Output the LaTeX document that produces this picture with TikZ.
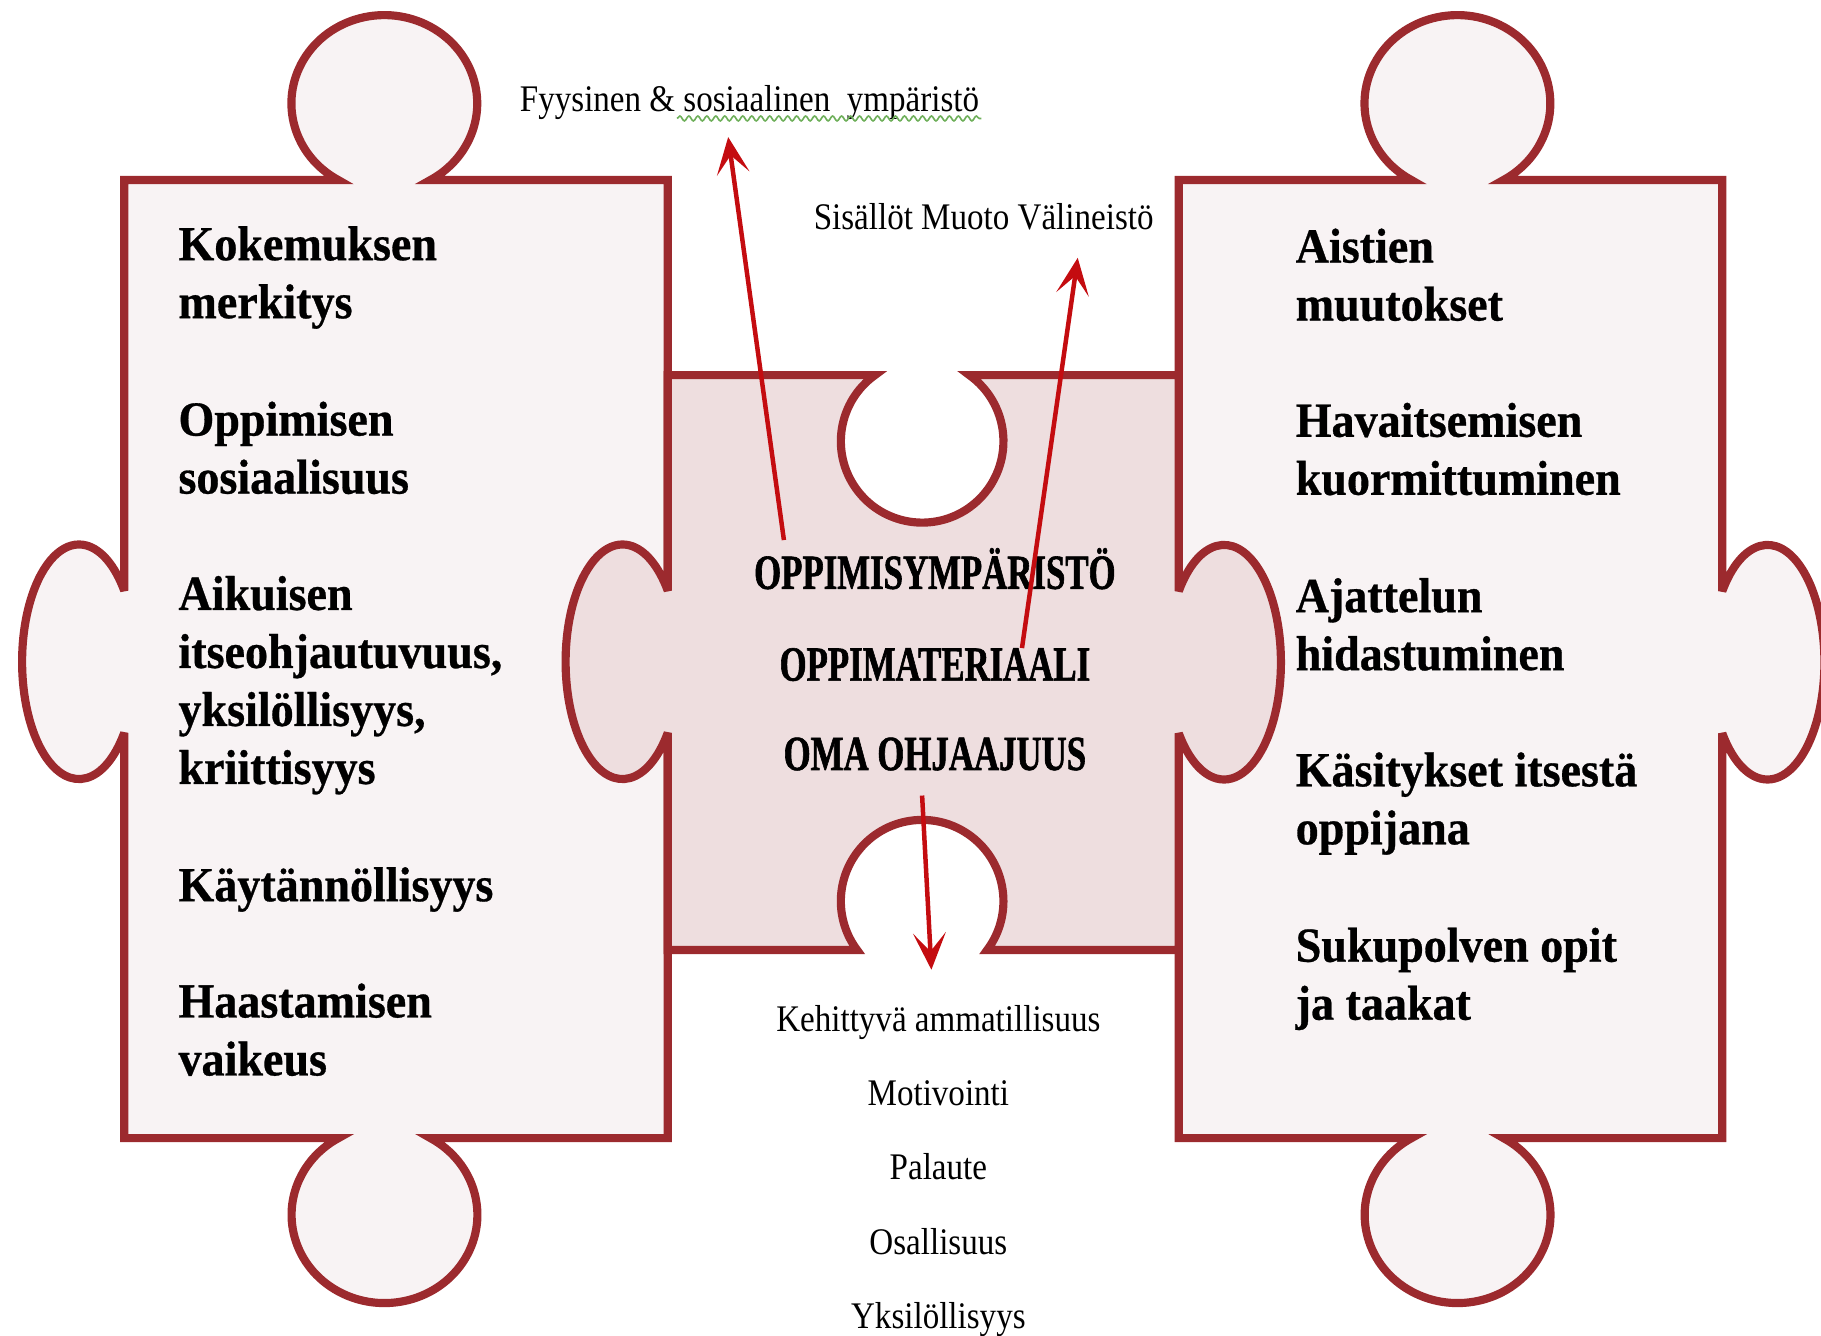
\documentclass[tikz,border=0pt]{standalone}
\usepackage{fontspec}
\setmainfont{Liberation Serif}
\newfontfamily\itemFont[FakeStretch=0.94, FakeBold=0.6]{Liberation Serif Bold}
\newfontfamily\coreFont[FakeStretch=0.71, FakeBold=1.2]{Liberation Serif Bold}
\newfontfamily\noteFont[FakeStretch=0.88]{Liberation Serif}
\usetikzlibrary{arrows.meta, decorations.pathmorphing}
\tikzstyle{sheet} = [x = 0.01cm, y = -0.01cm]
\definecolor{pieceRed}{RGB}{156,42,46}
\definecolor{sideFill}{RGB}{248,243,244}
\definecolor{middleFill}{RGB}{238,222,223}
\definecolor{arrowRed}{RGB}{196,12,16}
\definecolor{spellGreen}{RGB}{110,175,90}
\tikzstyle{pieceStyle} = [draw=pieceRed, line width=2pt, miter limit=4]
\tikzstyle{sidePiece} = [pieceStyle, fill=sideFill]
\tikzstyle{middlePiece} = [pieceStyle, fill=middleFill]
% multi-line nodes: base = baseline of the last line
\tikzstyle{itemText} = [font=\itemFont\fontsize{12}{14.2}\selectfont, align=left, anchor=base west, inner sep=0pt]
\tikzstyle{coreText} = [font=\coreFont\fontsize{12}{14}\selectfont, anchor=base, inner sep=0pt]
\tikzstyle{noteText} = [font=\noteFont\fontsize{9.2}{11}\selectfont, inner sep=0pt]
\tikzstyle{pointer} = [arrowRed, line width=1.1pt, -{Stealth[length=9pt, width=8pt, inset=4.5pt]}]
\tikzstyle{spellMark} = [spellGreen, line width=0.4pt, decorate, decoration={snake, amplitude=0.6pt, segment length=2.2pt}]
\newcommand{\knobRx}{80}
\newcommand{\knobRy}{76}
\newcommand{\sideRx}{49}
\newcommand{\sideRy}{101}
\newcommand{\holeR}{70}

\begin{document}
\begin{tikzpicture}[sheet]
  \useasboundingbox (0,0) rectangle (1568,1150);

  % left piece
  \filldraw [sidePiece] (107,155) -- (291.3,155)
    arc [start angle = 119.7, end angle = 420.3, x radius = \knobRx, y radius = \knobRy]
    -- (575,155) -- (575,980) -- (370.7,980)
    arc [start angle = 299.7, end angle = 600.3, x radius = \knobRx, y radius = \knobRy]
    -- (107,980) -- (107,631)
    arc [start angle = 37.3, end angle = 322.7, x radius = \sideRx, y radius = \sideRy]
    -- cycle;

  % right piece
  \filldraw [sidePiece] (1015,155) -- (1215.3,155)
    arc [start angle = 119.7, end angle = 420.3, x radius = \knobRx, y radius = \knobRy]
    -- (1483,155) -- (1483,509)
    arc [start angle = 217.3, end angle = 502.7, x radius = \sideRx, y radius = \sideRy]
    -- (1483,980) -- (1294.7,980)
    arc [start angle = 299.7, end angle = 600.3, x radius = \knobRx, y radius = \knobRy]
    -- (1015,980) -- cycle;

  % middle piece
  \filldraw [middlePiece] (575,323) -- (753.4,323)
    arc [start angle = 234.5, end angle = -54.5, radius = \holeR]
    -- (1015,323) -- (1015,509)
    arc [start angle = 217.3, end angle = 502.7, x radius = \sideRx, y radius = \sideRy]
    -- (1015,818) -- (850,818)
    arc [start angle = 36.9, end angle = -216.9, radius = \holeR]
    -- (575,818) -- (575,631)
    arc [start angle = 37.3, end angle = 322.7, x radius = \sideRx, y radius = \sideRy]
    -- cycle;

  % left texts
  \node [itemText] (kokemusText) at (153,274) {Kokemuksen\\merkitys};
  \node [itemText] (oppiminenText) at (153,425) {Oppimisen\\sosiaalisuus};
  \node [itemText] (aikuinenText) at (153,675) {Aikuisen\\itseohjautuvuus,\\yksilöllisyys,\\kriittisyys};
  \node [itemText] (kaytantoText) at (153,776) {Käytännöllisyys};
  \node [itemText] (haasteText) at (153,926) {Haastamisen\\vaikeus};

  % right texts
  \node [itemText] (aistiText) at (1115,276) {Aistien\\muutokset};
  \node [itemText] (havaintoText) at (1115,426) {Havaitsemisen\\kuormittuminen};
  \node [itemText] (ajatteluText) at (1115,577) {Ajattelun\\hidastuminen};
  \node [itemText] (kasitysText) at (1115,727) {Käsitykset itsestä\\oppijana};
  \node [itemText] (sukupolviText) at (1115,878) {Sukupolven opit\\ja taakat};

  % middle texts
  \node [coreText] (envText) at (805,507) {OPPIMISYMPÄRISTÖ};
  \node [coreText] (materialText) at (805,586) {OPPIMATERIAALI};
  \node [coreText] (guidanceText) at (805,663) {OMA OHJAAJUUS};

  % outer labels
  \node [noteText, anchor=base west] (envLabel) at (447,96) {Fyysinen \& sosiaalinen~ ympäristö};
  \draw [spellMark] (583,102) -- (845,102);
  \node [noteText, anchor=base west] (materialLabel) at (700,198) {Sisällöt Muoto Välineistö};
  \foreach \word [count=\i] in {Kehittyvä ammatillisuus, Motivointi, Palaute, Osallisuus, Yksilöllisyys}
    \node [noteText, anchor=base] (note\i) at (808, 824 + 64 * \i) {\word};

  % arrows
  \coordinate (envTail) at (675,465);
  \coordinate (envTip) at (627,118);
  \coordinate (materialTail) at (880,558);
  \coordinate (materialTip) at (928,222);
  \coordinate (guidanceTail) at (794,685);
  \coordinate (guidanceTip) at (802,835);
  \draw [pointer] (envTail) -- (envTip);
  \draw [pointer] (materialTail) -- (materialTip);
  \draw [pointer] (guidanceTail) -- (guidanceTip);
\end{tikzpicture}
\end{document}
